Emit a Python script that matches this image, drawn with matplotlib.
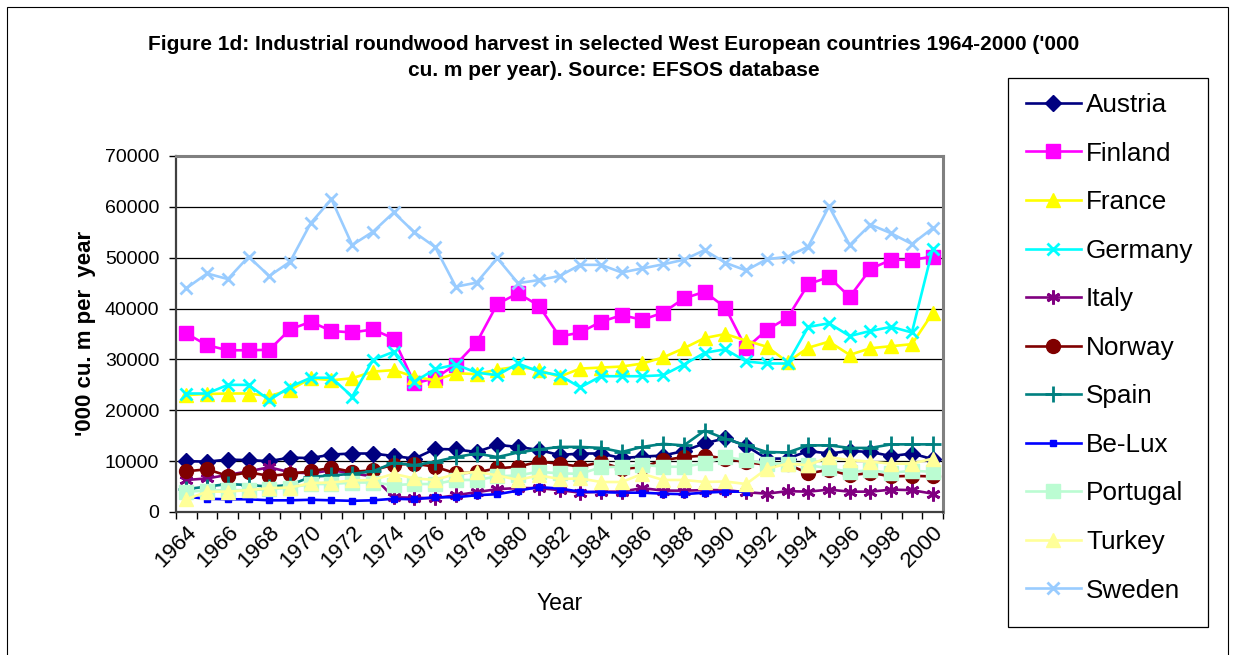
import numpy as np
import matplotlib
matplotlib.use("Agg")
import matplotlib.pyplot as plt
from matplotlib.patches import Rectangle

plt.rcParams['font.family'] = ['Liberation Sans', 'DejaVu Sans']

years = list(range(1964, 2001))

austria = [10000, 9900, 10300, 10200, 10000, 10700, 10600, 11300, 11500, 11500,
           11000, 10500, 12400, 12300, 11800, 13200, 12800, 12200, 11200, 11500,
           11500, 10600, 10900, 11100, 12000, 13500, 14500, 13000, 10500, 10500,
           12000, 11500, 12000, 11800, 11000, 11500, 10400]
finland = [35100, 32800, 31800, 31800, 31900, 35900, 37400, 35600, 35300, 35900,
           34100, 25300, 26300, 29000, 33300, 40900, 43000, 40600, 34500, 35300,
           37400, 38700, 37800, 39200, 42000, 43300, 40200, 32200, 35800, 38200,
           44800, 46200, 42300, 47800, 49600, 49600, 50200]
france = [23000, 23200, 23300, 23300, 22800, 24000, 26300, 25900, 26300, 27600,
          27900, 26600, 25900, 27300, 27100, 28000, 28600, 27900, 26600, 28200,
          28400, 28600, 29200, 30400, 32200, 34200, 35000, 33700, 32500, 29500,
          32300, 33500, 30900, 32200, 32600, 33000, 39100]
germany = [23300, 23300, 25000, 25000, 22000, 24600, 26400, 26400, 22700, 29900,
           31500, 25600, 28100, 29000, 27400, 26900, 29200, 27600, 26900, 24500,
           26700, 26700, 26700, 26900, 29000, 31300, 32000, 29600, 29200, 29200,
           36400, 37100, 34600, 35600, 36400, 35300, 51700]
italy = [6300, 6600, 7300, 8000, 8800, 7800, 7600, 8200, 7600, 7000,
         2900, 2800, 2700, 3300, 3900, 4500, 4700, 4700, 4300, 3800,
         4000, 4000, 4700, 4200, 4200, 4300, 4300, 3900, 3600, 4100,
         4000, 4400, 4000, 4000, 4400, 4300, 3600]
norway = [8000, 8400, 7100, 7800, 7100, 7500, 8000, 8700, 7900, 8200,
          9300, 9500, 8900, 7600, 7800, 8600, 8900, 9900, 9500, 8900,
          9800, 8500, 8800, 10200, 10800, 11100, 10500, 9800, 9300, 9400,
          7600, 8300, 7200, 7700, 7000, 7100, 7000]
spain = [4500, 5000, 5500, 5300, 5000, 5300, 6900, 7200, 7500, 8000,
         9700, 9200, 9900, 10800, 11500, 10800, 11700, 12300, 12800, 12800,
         12600, 11800, 12800, 13400, 13100, 16000, 14400, 13100, 11800, 11700,
         13100, 13100, 12600, 12600, 13300, 13300, 13300]
belux = [3000, 2600, 2500, 2500, 2300, 2300, 2400, 2300, 2200, 2300,
         2600, 2500, 2900, 2900, 3300, 3500, 4200, 4900, 4600, 4000,
         3900, 3800, 3800, 3600, 3500, 3800, 4000, 4000, np.nan, np.nan,
         np.nan, np.nan, np.nan, np.nan, np.nan, np.nan, np.nan]
portugal = [4000, 4200, 4300, 4300, 4500, 4800, 5500, 5500, 5800, 5800,
            5300, 5500, 5500, 6300, 6300, 7000, 7200, 7900, 7600, 7500,
            8800, 8900, 9300, 8900, 8900, 9600, 10800, 10200, 9500, 9500,
            9200, 8600, 7900, 8200, 7700, 8100, 7900]
turkey = [2500, 4000, 4000, 4300, 4700, 4800, 5700, 5800, 6200, 6300,
          7500, 6600, 6300, 7500, 7900, 7200, 6300, 7200, 6500, 6600,
          5900, 5900, 7500, 6300, 6300, 5900, 6000, 5500, 8500, 9500,
          9200, 10800, 10200, 9900, 9500, 9500, 10500]
sweden = [44000, 46900, 45800, 50200, 46400, 49200, 56800, 61500, 52500, 55100,
          58900, 55000, 52100, 44300, 45100, 49900, 45000, 45600, 46400, 48600,
          48600, 47100, 47900, 48700, 49600, 51500, 49000, 47500, 49700, 50200,
          52200, 60100, 52500, 56500, 54800, 52700, 55800]

series = [
    ("Austria", austria, "#000080", "D", 8, 1.0),
    ("Finland", finland, "#FF00FF", "s", 10, 1.0),
    ("France", france, "#FFFF00", "^", 10, 1.0),
    ("Germany", germany, "#00FFFF", "x", 9, 2.0),
    ("Italy", italy, "#800080", (6, 2, 0), 10, 2.0),
    ("Norway", norway, "#800000", "o", 10, 1.0),
    ("Spain", spain, "#008080", "+", 11, 2.0),
    ("Be-Lux", belux, "#0000FF", "s", 4.5, 1.0),
    ("Portugal", portugal, "#BBFCD2", "s", 10, 1.0),
    ("Turkey", turkey, "#FFFF99", "^", 10, 1.0),
    ("Sweden", sweden, "#99CCFF", "x", 9, 2.0),
]

W, H = 1235, 655
fig = plt.figure(figsize=(W / 100, H / 100), dpi=100)
fig.patch.set_facecolor("white")

# outer chart frame
fig.add_artist(Rectangle((7 / W, -0.02), (1228 - 7) / W, 1 - 7 / H + 0.02,
                         transform=fig.transFigure, fill=False,
                         edgecolor="black", lw=0.8, zorder=-2))

# legend frame, drawn beneath the axes so the legend entries sit on top
fig.add_artist(Rectangle((1008 / W, 1 - 627 / H), 200 / W, (627 - 78) / H,
                         transform=fig.transFigure, fill=True, facecolor="white",
                         edgecolor="black", lw=0.9, zorder=-1))

ax = fig.add_axes([176 / W, 1 - 512 / H, (943 - 176) / W, (512 - 156) / H])

x = np.arange(len(years))
for name, vals, col, mk, ms, mew in series:
    ax.plot(x, vals, color=col, lw=1.9, marker=mk, markersize=ms,
            markerfacecolor=col, markeredgecolor=col, markeredgewidth=mew,
            label=name, clip_on=False)

ax.set_xlim(-0.5, len(years) - 0.5)
ax.set_ylim(0, 70000)
ax.set_yticks(np.arange(0, 70001, 10000))
ax.set_yticklabels([str(v) for v in range(0, 70001, 10000)], fontsize=14)
ax.yaxis.grid(True, color="black", lw=0.9)
ax.set_axisbelow(True)

ax.set_xticks(x[::2])
ax.set_xticklabels([str(y) for y in years[::2]], rotation=45, ha="right",
                   va="top", rotation_mode="anchor", fontsize=16)
ax.set_xticks(np.arange(-0.5, len(years), 1), minor=True)
ax.tick_params(axis="x", which="major", length=0, pad=7)
ax.tick_params(axis="x", which="minor", length=5, width=1, color="black")
ax.tick_params(axis="y", length=5, width=1, color="black", pad=7)

for side in ("top", "right"):
    ax.spines[side].set_color("#808080")
    ax.spines[side].set_linewidth(2.2)
for side in ("left", "bottom"):
    ax.spines[side].set_color("#404040")
    ax.spines[side].set_linewidth(1.6)

fig.text(560 / W, 1 - 604 / H, "Year", ha="center", va="center", fontsize=16.5)
fig.text(85 / W, 1 - 333 / H, "'000 cu. m per  year", ha="center", va="center",
         rotation=90, fontsize=16, fontweight="bold")

fig.text(614 / W, 1 - 45 / H,
         "Figure 1d: Industrial roundwood harvest in selected West European countries 1964-2000 ('000",
         ha="center", va="center", fontsize=15, fontweight="bold")
fig.text(614 / W, 1 - 70 / H, "cu. m per year). Source: EFSOS database",
         ha="center", va="center", fontsize=15, fontweight="bold")

leg = ax.legend(loc="upper left", bbox_to_anchor=(1013 / W, 1 - 80 / H),
                bbox_transform=fig.transFigure, borderaxespad=0,
                fontsize=18.8, frameon=False,
                handlelength=2.1, handletextpad=0.2, labelspacing=0.94,
                borderpad=0.5)

fig.savefig("out.png", dpi=100, facecolor="white")
